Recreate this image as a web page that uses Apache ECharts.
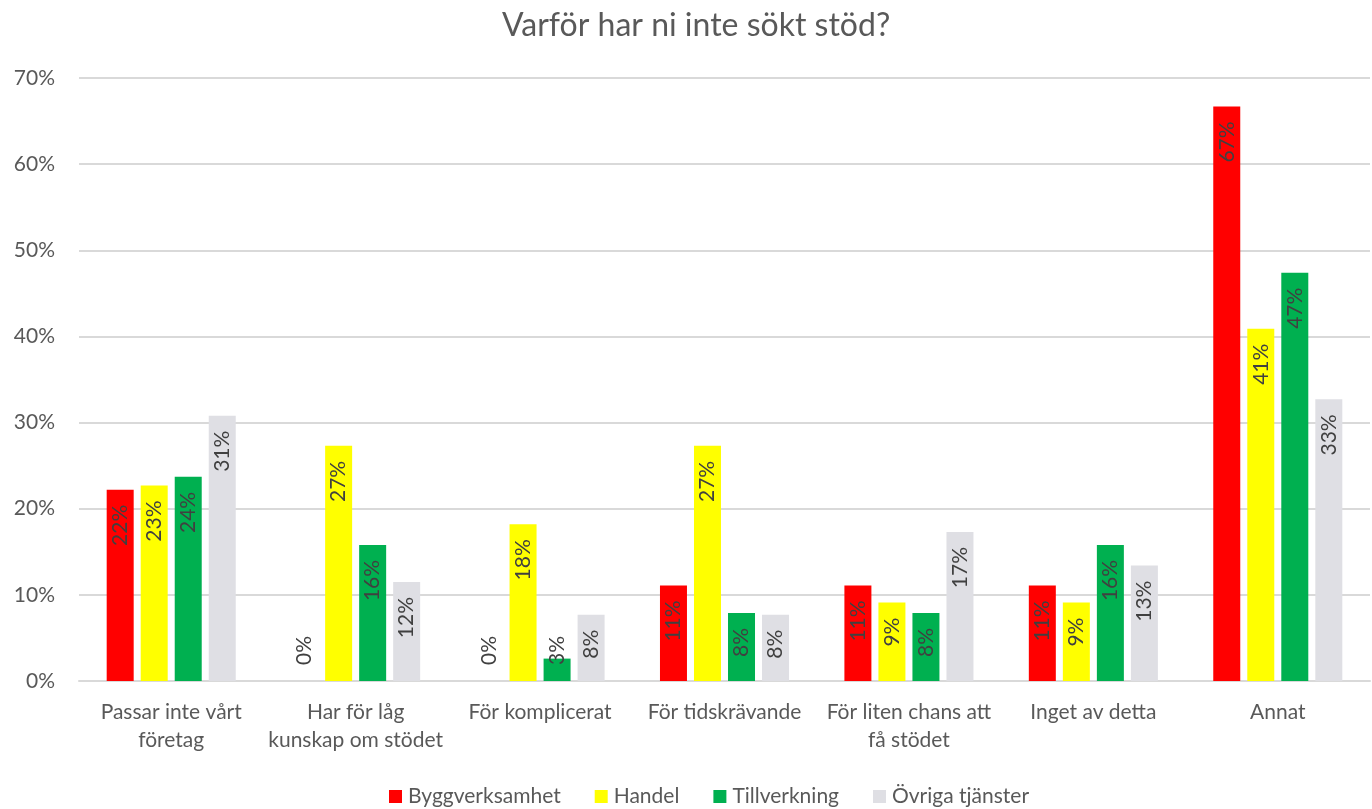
<!DOCTYPE html>
<html>
<head>
<meta charset="utf-8">
<script src="https://cdn.jsdelivr.net/npm/echarts@6/dist/echarts.min.js"></script>
<style>
  html, body { margin: 0; padding: 0; background: #ffffff; }
  #chart { width: 1372px; height: 809px; }
</style>
</head>
<body>
<div id="chart"></div>
<script>
// Survey reasons for not applying for support, share of respondents per sector (%)
const categories = [
  'Passar inte vårt\nföretag',
  'Har för låg\nkunskap om stödet',
  'För komplicerat',
  'För tidskrävande',
  'För liten chans att\nfå stödet',
  'Inget av detta',
  'Annat'
];
const seriesNames = ['Byggverksamhet', 'Handel', 'Tillverkning', 'Övriga tjänster'];
const bygg = [22.2, 0, 0, 11.1, 11.1, 11.1, 66.7];
const handel = [22.7, 27.3, 18.2, 27.3, 9.1, 9.1, 40.9];
const tillverkning = [23.7, 15.8, 2.6, 7.9, 7.9, 15.8, 47.4];
const ovriga = [30.8, 11.5, 7.7, 7.7, 17.3, 13.4, 32.7];
const yTicks = [0, 10, 20, 30, 40, 50, 60, 70];

const colors = ['#FF0000', '#FFFF00', '#00B050', '#DFDFE4'];
const fontFamily = 'Lato, "Open Sans", sans-serif';

function withShortBarLabels(values) {
  // bars too short to hold their label get it standing on the baseline instead
  return values.map(v => v < 5 ? {
    value: v,
    label: { position: 'insideBottom', align: 'left', distance: 16 }
  } : v);
}

const seriesData = [bygg, handel, tillverkning, ovriga];

const chart = echarts.init(document.getElementById('chart'), null, { renderer: 'canvas' });
chart.setOption({
  backgroundColor: '#ffffff',
  animation: false,
  title: {
    text: 'Varför har ni inte sökt stöd?',
    left: 497,
    top: 5,
    textStyle: { fontFamily, fontSize: 32, fontWeight: 'normal', color: '#595959' }
  },
  legend: {
    data: seriesNames,
    top: 781,
    left: 384,
    itemWidth: 13,
    itemHeight: 13,
    itemGap: 34,
    icon: 'rect',
    textStyle: { fontFamily, fontSize: 21, color: '#595959', padding: [0, 0, 0, 1] }
  },
  grid: { left: 79, right: 2, top: 78, bottom: 128, containLabel: false },
  xAxis: {
    type: 'category',
    data: categories,
    axisLine: { lineStyle: { color: '#D9D9D9', width: 2 } },
    axisTick: { show: false },
    axisLabel: {
      interval: 0,
      margin: 17,
      fontFamily,
      fontSize: 21,
      lineHeight: 28,
      color: '#595959'
    }
  },
  yAxis: {
    type: 'value',
    min: yTicks[0],
    max: yTicks[yTicks.length - 1],
    interval: 10,
    axisLine: { show: false },
    axisTick: { show: false },
    splitLine: { lineStyle: { color: '#D9D9D9', width: 2 } },
    axisLabel: {
      margin: 24,
      fontFamily,
      fontSize: 21,
      color: '#595959',
      formatter: v => v + '%'
    }
  },
  series: seriesNames.map((name, i) => ({
    name,
    type: 'bar',
    data: withShortBarLabels(seriesData[i]),
    barWidth: 27,
    barGap: '26%',
    itemStyle: { color: colors[i] },
    label: {
      show: true,
      position: 'insideTop',
      rotate: 90,
      align: 'right',
      verticalAlign: 'middle',
      distance: 15,
      fontFamily,
      fontSize: 21,
      color: '#404040',
      formatter: p => Math.round(p.value) + '%'
    }
  }))
});
</script>
</body>
</html>
